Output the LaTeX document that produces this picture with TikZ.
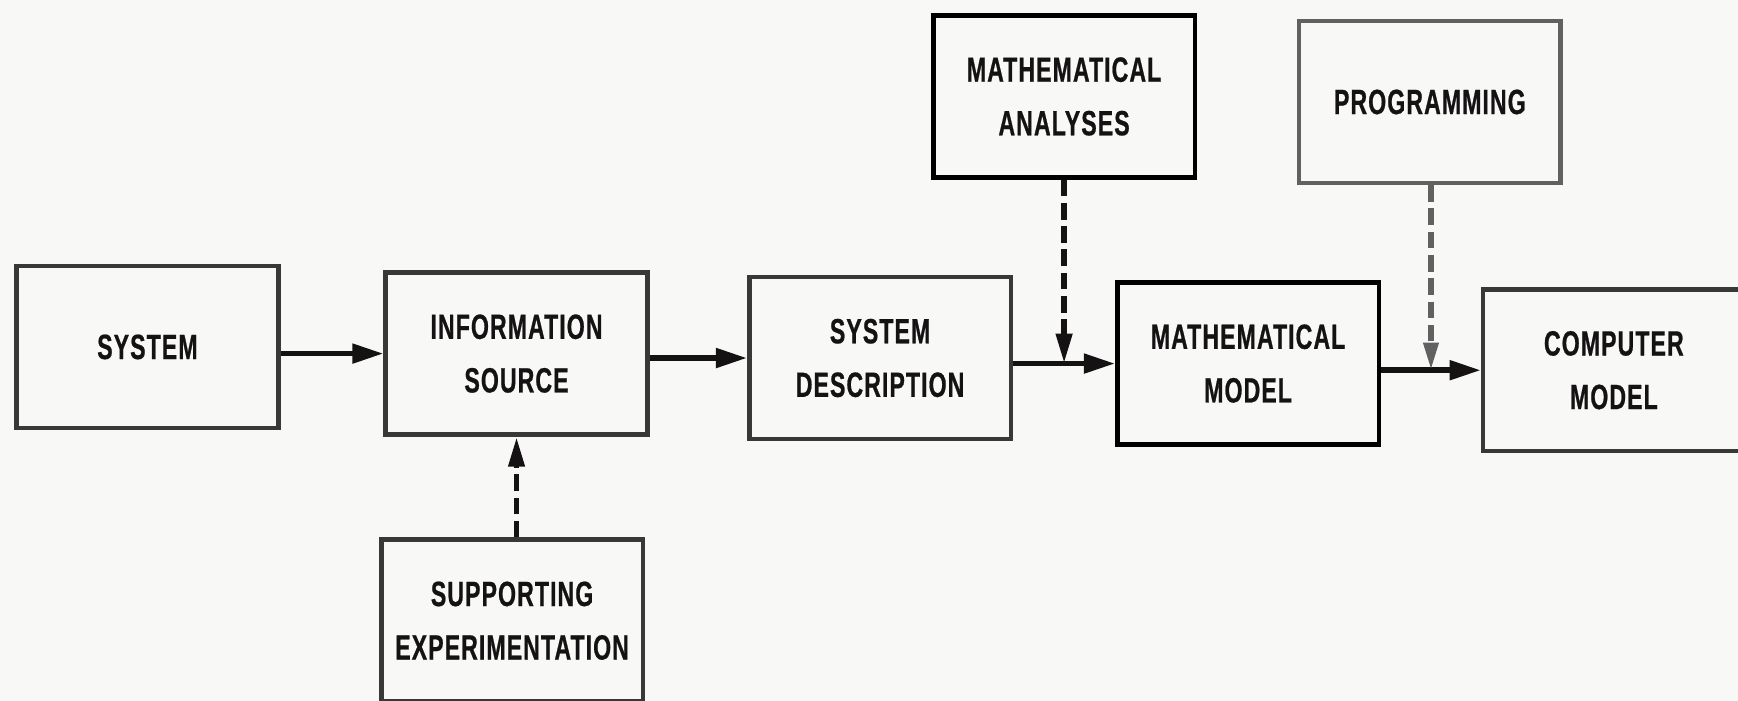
\documentclass[tikz,border=0pt]{standalone}
\usepackage{fontspec}
\setmainfont{Liberation Sans}[FakeStretch=0.66,LetterSpace=3,FakeBold=0.6]
\usetikzlibrary{arrows.meta,calc}
\definecolor{paper}{RGB}{248,248,247}
\definecolor{ink}{RGB}{20,18,18}
\begin{document}
\begin{tikzpicture}[x=0.02cm,y=-0.02cm,
    box/.style={draw=black!78,line width=2.4pt,minimum width=4.72cm,minimum height=2.92cm,
      align=center,text=ink,font=\fontsize{18}{27.5}\selectfont\bfseries},
    flow/.style={draw=ink,line width=2.8pt,-{Triangle[length=0.56cm,width=0.34cm]}},
    feed/.style={draw=ink,line width=2.9pt,dash pattern=on 0.3cm off 0.12cm,
      -{Triangle[length=0.54cm,width=0.28cm]}}]
    \useasboundingbox (0,0) rectangle (1568,632);
    \clip (0,0) rectangle (1568,632);
    \fill[paper] (0,0) rectangle (1568,632);

    % main chain
    \node[box] (sys) at (133,313) {SYSTEM};
    \node[box] (info) at (466,319) {INFORMATION\\SOURCE};
    \node[box] (desc) at (794,323) {SYSTEM\\DESCRIPTION};
    \node[box,draw=black] (math) at (1126,328) {MATHEMATICAL\\MODEL};
    \node[box] (comp) at (1456,334) {COMPUTER\\MODEL};

    % side inputs
    \node[box,draw=black] (ana) at (960,87) {MATHEMATICAL\\ANALYSES};
    \node[box,draw=black!62] (prog) at (1290,92) {PROGRAMMING};
    \node[box] (sup) at (462,560) {SUPPORTING\\EXPERIMENTATION};

    \draw[flow] (sys.east |- info.west) -- (info.west);
    \draw[flow] (info.east |- desc.west) -- (desc.west);
    \draw[flow] (desc.east |- math.west) -- (math.west);
    \draw[flow] (math.east |- comp.west) -- (comp.west);

    \coordinate (ja) at ($(desc.east |- math.west)!0.5!(math.west)$);
    \coordinate (jp) at ($(math.east |- comp.west)!0.5!(comp.west)$);
    \draw[feed] (ana.south -| ja) -- (ja);
    \draw[feed,draw=black!62,-{Triangle[length=0.5cm,width=0.26cm,fill=black!62]}] (prog.south -| jp) -- (jp);
    \draw[feed] (info.south |- sup.north) -- (info.south);
\end{tikzpicture}
\end{document}
